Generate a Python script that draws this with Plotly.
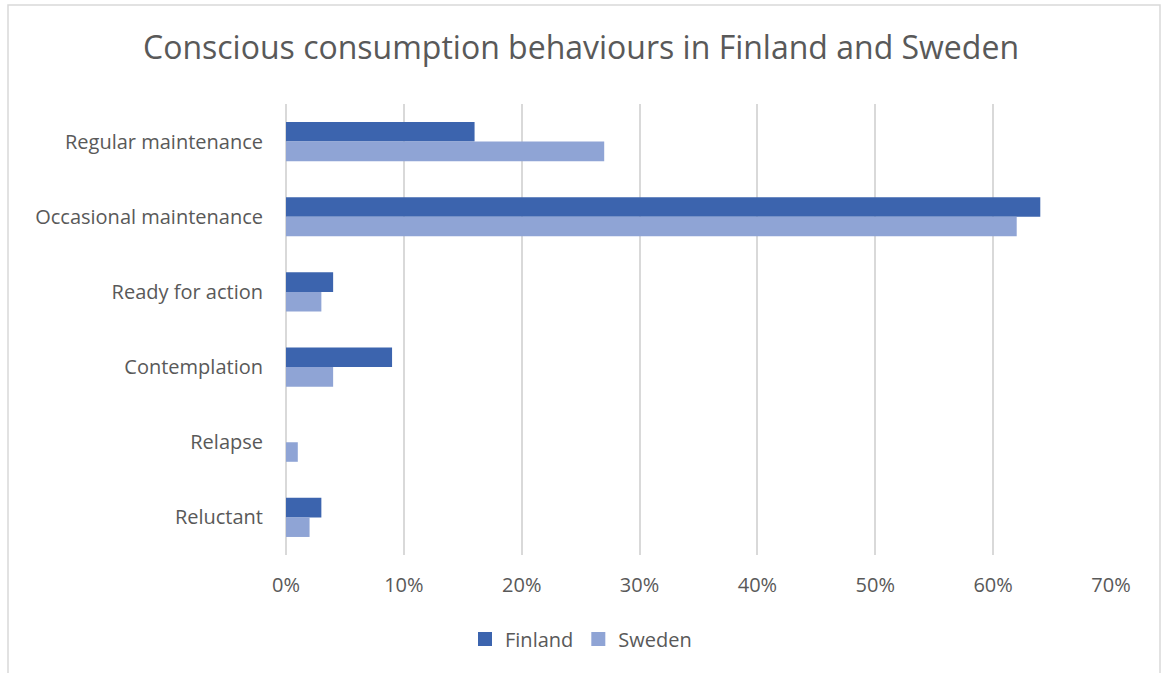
import plotly.graph_objects as go

categories = ["Regular maintenance", "Occasional maintenance", "Ready for action",
              "Contemplation", "Relapse", "Reluctant"]
finland = [16, 64, 4, 9, 0, 3]
sweden = [27, 62, 3, 4, 1, 2]
series_names = ["Finland", "Sweden"]
series_colors = ["#3C64AE", "#8FA4D5"]
tick_vals = [0, 10, 20, 30, 40, 50, 60, 70]
tick_text = ["0%", "10%", "20%", "30%", "40%", "50%", "60%", "70%"]

W, H = 1162, 673
ml, mr, mt, mb = 286, 51, 104, 118
pw, ph = W - ml - mr, H - mt - mb

fig = go.Figure()
for name, vals, col in zip(series_names, [finland, sweden], series_colors):
    fig.add_trace(go.Bar(y=categories, x=vals, name=name, orientation="h",
                         marker=dict(color=col, line=dict(width=0)),
                         showlegend=False, legendgroup=name))
# legend entries with larger square swatches
for name, col in zip(series_names, series_colors):
    fig.add_trace(go.Scatter(x=[None], y=[None], mode="markers", name=name,
                             legendgroup=name,
                             marker=dict(symbol="square", size=14, color=col)))

font_family = "Open Sans, Liberation Sans, sans-serif"
fig.update_layout(
    width=W, height=H,
    margin=dict(l=ml, r=mr, t=mt, b=mb, autoexpand=False),
    paper_bgcolor="white", plot_bgcolor="white",
    barmode="group", bargap=0.48, bargroupgap=0,
    title=dict(text="Conscious consumption behaviours in Finland and Sweden",
               x=0.5, xref="container", xanchor="center",
               y=1 - 48 / H, yref="container", yanchor="middle",
               font=dict(family=font_family, size=32, color="#595959")),
    font=dict(family=font_family, color="#595959"),
    xaxis=dict(range=[0, 70], tickvals=tick_vals, ticktext=tick_text,
               showgrid=True, gridcolor="#D9D9D9", gridwidth=1.5,
               zeroline=True, zerolinecolor="#D9D9D9", zerolinewidth=1.5,
               showline=False, ticks="", tickfont=dict(size=20, color="#595959"),
               ticklabelstandoff=16, fixedrange=True),
    yaxis=dict(categoryorder="array", categoryarray=categories,
               autorange="reversed",
               showgrid=False, zeroline=False, showline=False, ticks="",
               tickfont=dict(size=20, color="#595959"), ticklabelstandoff=22,
               fixedrange=True),
    legend=dict(orientation="h", x=0.5, xref="container", xanchor="center",
                y=1 - 639 / H, yref="container", yanchor="middle",
                font=dict(size=20, color="#595959"), traceorder="normal",
                itemwidth=30),
    showlegend=True,
)
# outer chart border
fig.add_shape(type="rect", xref="paper", yref="paper",
              x0=(8 - ml) / pw, x1=(1160 - ml) / pw,
              y0=(H - mb - 675) / ph, y1=(H - mb - 5) / ph,
              line=dict(color="#D9D9D9", width=1.5), fillcolor="rgba(0,0,0,0)", layer="below")

fig.write_html("out.html", config={"displayModeBar": False})
with open("out.html", "r", encoding="utf-8") as f:
    html = f.read()
html = html.replace("<head>", "<head><style>html,body{margin:0;padding:0;overflow:hidden;}</style>", 1)
with open("out.html", "w", encoding="utf-8") as f:
    f.write(html)
